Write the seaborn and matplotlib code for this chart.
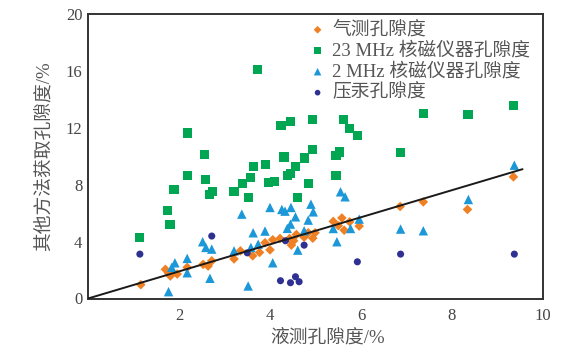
import matplotlib
matplotlib.use("Agg")
import matplotlib.pyplot as plt
import seaborn as sns

# Porosity from gas measurement vs liquid measurement
gas_x = [1.16, 1.70, 1.77, 1.81, 1.96, 2.18, 2.53, 2.64, 2.72, 3.21, 3.35, 3.62,
         3.77, 3.89, 4.00, 4.06, 4.22, 4.43, 4.47, 4.52, 4.58, 4.75, 4.84, 4.94,
         4.99, 5.39, 5.50, 5.58, 5.63, 5.75, 5.96, 6.86, 7.37, 8.34, 9.35]
gas_y = [0.97, 2.05, 1.79, 1.58, 1.72, 2.19, 2.40, 2.28, 2.65, 2.78, 3.35, 3.00,
         3.24, 3.92, 3.42, 4.13, 4.22, 4.22, 3.75, 4.06, 4.50, 4.31, 4.62, 4.24,
         4.62, 5.42, 5.12, 5.66, 4.80, 5.39, 5.09, 6.47, 6.79, 6.26, 8.55]

# 23 MHz NMR porosity
nmr23_x = [1.13, 1.74, 1.80, 1.89, 2.18, 2.18, 2.56, 2.59, 2.67, 2.73, 3.21, 3.39,
           3.52, 3.58, 3.63, 3.73, 3.90, 3.96, 4.10, 4.24, 4.31, 4.38, 4.45, 4.45,
           4.56, 4.60, 4.75, 4.84, 4.93, 4.93, 5.45, 5.45, 5.52, 5.62, 5.74, 5.93,
           6.87, 7.38, 8.35, 9.36]
nmr23_y = [4.29, 6.21, 5.21, 7.66, 8.64, 11.64, 10.12, 8.39, 7.31, 7.52, 7.50, 8.08,
           7.08, 8.50, 9.30, 16.08, 9.42, 8.15, 8.25, 12.18, 9.95, 8.64, 8.78, 12.46,
           9.30, 7.08, 9.88, 8.08, 10.45, 12.57, 8.67, 10.07, 10.30, 12.57, 11.94, 11.47,
           10.26, 13.02, 12.93, 13.58]

# 2 MHz NMR porosity
nmr2_x = [1.77, 1.84, 1.91, 2.18, 2.18, 2.52, 2.59, 2.68, 2.72, 3.21, 3.38, 3.52,
          3.58, 3.63, 3.74, 3.89, 4.00, 4.06, 4.26, 4.33, 4.38, 4.45, 4.46, 4.56,
          4.61, 4.75, 4.84, 4.90, 4.95, 5.39, 5.47, 5.55, 5.65, 5.77, 5.96, 6.87,
          7.37, 8.36, 9.37]
nmr2_y = [0.48, 2.19, 2.51, 2.82, 1.81, 3.99, 3.59, 1.42, 3.47, 3.35, 5.93, 0.88,
          3.59, 4.62, 3.82, 4.74, 6.40, 2.51, 6.26, 6.14, 4.93, 5.23, 6.40, 5.74,
          3.40, 4.76, 5.51, 6.63, 6.09, 4.92, 3.99, 7.50, 7.15, 4.92, 5.58, 4.88,
          4.76, 6.96, 9.37]

# Mercury injection porosity
hg_x = [1.14, 2.72, 3.50, 4.23, 4.34, 4.45, 4.56, 4.64, 4.75, 5.92, 6.87, 9.37]
hg_y = [3.12, 4.39, 3.21, 1.25, 4.06, 1.11, 1.53, 1.18, 3.75, 2.58, 3.12, 3.12]

# Trend line through the origin
fit_x = [0.0, 9.55]
fit_slope = 0.952

labels = ["气测孔隙度", "23 MHz 核磁仪器孔隙度", "2 MHz 核磁仪器孔隙度", "压汞孔隙度"]
colors = ["#F08024", "#00A651", "#1C98D8", "#2E3192"]

sns.set_theme(style="white")
plt.rcParams["font.family"] = ["Liberation Serif", "Noto Sans CJK SC"]
plt.rcParams["font.weight"] = "light"

W, H = 575, 348
fig = plt.figure(figsize=(W / 100, H / 100), dpi=100)
ax = fig.add_axes([88 / W, 1 - 298.5 / H, 455 / W, 284.5 / H])

series = [(gas_x, gas_y, "D", 24), (nmr23_x, nmr23_y, "s", 44),
          (nmr2_x, nmr2_y, "^", 46), (hg_x, hg_y, "o", 26)]
for (xs, ys, mk, sz), lab, col in zip(series, labels, colors):
    sns.scatterplot(x=xs, y=ys, marker=mk, s=sz, color=col, edgecolor="none",
                    linewidth=0, label=lab, ax=ax, zorder=3)

sns.lineplot(x=fit_x, y=[fit_slope * v for v in fit_x], color="#1a1a1a",
             linewidth=1.4, ax=ax, zorder=4, legend=False)

ax.set_xlim(0, 10)
ax.set_ylim(0, 20)
ax.set_xticks([2, 4, 6, 8, 10])
ax.set_yticks([0, 4, 8, 12, 16, 20])
ax.tick_params(direction="in", length=4, width=1, colors="#333333",
               labelsize=12, labelcolor="#444444", pad=4)
ax.tick_params(axis="x", pad=7)
for s in ax.spines.values():
    s.set_color("#333333")
    s.set_linewidth(1.4)

ax.set_xlabel("液测孔隙度/%", fontsize=13.5, color="#555555")
ax.set_ylabel("其他方法获取孔隙度/%", fontsize=13.5, color="#555555")
ax.xaxis.set_label_coords(0.527, -0.108)
ax.yaxis.set_label_coords(-0.078, 0.5)

leg = ax.legend(loc="upper left", bbox_to_anchor=(0.485, 0.975), frameon=False,
                fontsize=13.5, handlelength=0.95, handletextpad=0.3,
                labelspacing=0.17, borderpad=0, borderaxespad=0, markerscale=0.8)
for t in leg.get_texts():
    t.set_color("#555555")

fig.savefig("out.png", dpi=100, facecolor="white")
